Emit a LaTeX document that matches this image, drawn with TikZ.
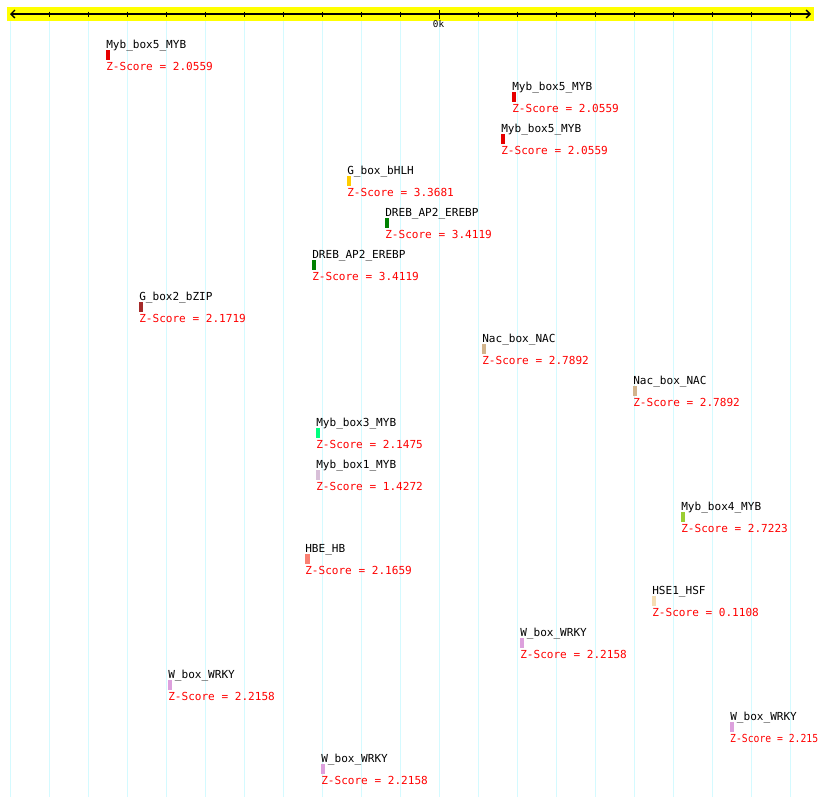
\documentclass[tikz,border=0pt]{standalone}
\usepackage{fontspec}
\newfontfamily\pixfont{DejaVu Sans Mono}
\usetikzlibrary{arrows.meta,positioning}
\definecolor{rulerfill}{RGB}{255,255,0}
\definecolor{gridcyan}{RGB}{212,250,255}
\definecolor{zred}{RGB}{255,0,0}
\definecolor{mybfive}{RGB}{230,0,0}
\definecolor{gboxbhlh}{RGB}{255,204,0}
\definecolor{dreb}{RGB}{0,128,0}
\definecolor{gboxbzip}{RGB}{165,42,42}
\definecolor{nacbox}{RGB}{210,180,140}
\definecolor{mybthree}{RGB}{0,255,127}
\definecolor{mybone}{RGB}{216,191,216}
\definecolor{mybfour}{RGB}{154,205,50}
\definecolor{hbebox}{RGB}{250,128,114}
\definecolor{hsebox}{RGB}{245,222,179}
\definecolor{wbox}{RGB}{221,160,221}
\tikzset{
  motiflbl/.style = {anchor=base west, inner sep=0pt,
                     font=\pixfont\fontsize{8.3}{10}\selectfont},
  zscore/.style   = {motiflbl, text=zred},
  motifbar/.style = {rectangle, inner sep=0pt, anchor=north west,
                     minimum height=7.5pt},
  axisline/.style = {{Straight Barb[length=3pt,width=6pt]}-{Straight Barb[length=3pt,width=6pt]},
                     line width=1pt},
  tickmark/.style = {line width=0.75pt},
  gridline/.style = {gridcyan, line width=0.75pt},
}

\begin{document}
\begin{tikzpicture}[x=0.75pt,y=-0.75pt]
\useasboundingbox (0,0) rectangle (820,797);
% grid
\foreach \k in {0,...,20}
  \draw[gridline] ({10.3+39*\k},20) -- ({10.3+39*\k},797);
% ruler
\fill[rulerfill] (7,7) rectangle (814,20.5);
\coordinate (rulL) at (10,14);
\coordinate (rulR) at (811,14);
\draw[axisline] (rulL) -- (rulR);
\foreach \k in {1,...,10,12,13,...,20}
  \draw[tickmark] ({10.3+39*\k},11.5) -- ({10.3+39*\k},17);
\draw[tickmark] (439.3,10) -- (439.3,19);
\node[inner sep=0pt, font=\pixfont\fontsize{7}{8}\selectfont] (zero) at (438.5,24.5) {0k};
% motifs
\foreach \xx/\name/\zz/\col/\w/\sx [count=\i from 0] in {
    106/Myb\_box5\_MYB/2.0559/mybfive/3.3/1,
    512/Myb\_box5\_MYB/2.0559/mybfive/3.3/1,
    501/Myb\_box5\_MYB/2.0559/mybfive/3.3/1,
    347/G\_box\_bHLH/3.3681/gboxbhlh/3.3/1,
    385/DREB\_AP2\_EREBP/3.4119/dreb/3.3/1,
    312/DREB\_AP2\_EREBP/3.4119/dreb/4/1,
    139/G\_box2\_bZIP/2.1719/gboxbzip/4/1,
    482/Nac\_box\_NAC/2.7892/nacbox/3.3/1,
    633/Nac\_box\_NAC/2.7892/nacbox/3.3/1,
    316/Myb\_box3\_MYB/2.1475/mybthree/3.3/1,
    316/Myb\_box1\_MYB/1.4272/mybone/3.3/1,
    681/Myb\_box4\_MYB/2.7223/mybfour/4/1,
    305/HBE\_HB/2.1659/hbebox/5/1,
    652/HSE1\_HSF/0.1108/hsebox/3.3/1,
    520/W\_box\_WRKY/2.2158/wbox/3.3/1,
    168/W\_box\_WRKY/2.2158/wbox/3.3/1,
    730/W\_box\_WRKY/2.215/wbox/3.3/0.88,
    321/W\_box\_WRKY/2.2158/wbox/3.3/1}
{
  \node[motiflbl] (lbl\i) at (\xx,{48+42*\i}) {\name};
  \node[motifbar, fill=\col, minimum width=\w*0.75pt] (bar\i) at (\xx,{49.5+42*\i}) {};
  \node[zscore, xscale=\sx] (zs\i) at (\xx,{70+42*\i}) {Z-Score = \zz};
}
\end{tikzpicture}
\end{document}
